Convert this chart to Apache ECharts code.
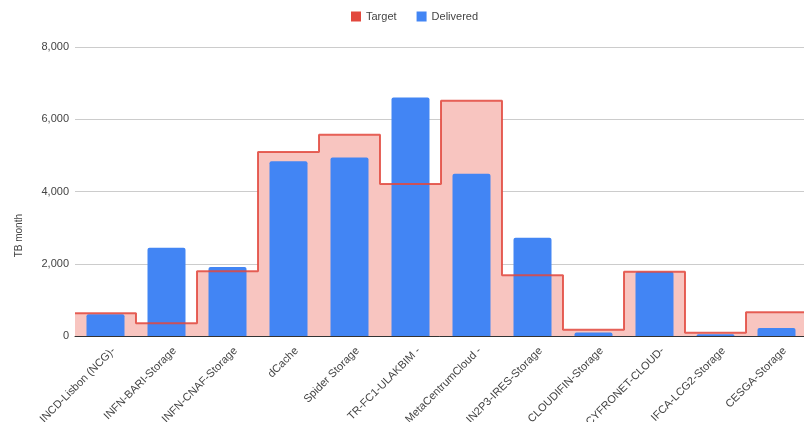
<!DOCTYPE html>
<html>
<head>
<meta charset="utf-8">
<title>Target vs Delivered</title>
<script src="https://cdn.jsdelivr.net/npm/echarts@6/dist/echarts.min.js"></script>
<style>
    html, body { margin: 0; padding: 0; background: #fff; }
    #chartData { width: 804px; height: 422px; }
</style>
</head>
<body>
<div id="chartData"></div>
<script>
// 站点名称
var categories = ['INCD-Lisbon (NCG)-', 'INFN-BARI-Storage', 'INFN-CNAF-Storage', 'dCache',
    'Spider Storage', 'TR-FC1-ULAKBIM -', 'MetaCentrumCloud -', 'IN2P3-IRES-Storage',
    'CLOUDIFIN-Storage', 'CYFRONET-CLOUD-', 'IFCA-LCG2-Storage', 'CESGA-Storage'];
// 目标值 (TB month)
var targetData = [630, 350, 1790, 5090, 5570, 4210, 6510, 1680, 170, 1780, 90, 660];
// 实际交付 (TB month)
var deliveredData = [600, 2440, 1910, 4840, 4940, 6600, 4490, 2720, 100, 1780, 50, 220];
var yTicks = [0, 2000, 4000, 6000, 8000];

// 阶梯图的点: 每个类别占满一格, 最后补一个点到右边界
var stepPoints = [];
for (var i = 0; i < targetData.length; i++) {
    stepPoints.push([i, targetData[i]]);
}
stepPoints.push([targetData.length, targetData[targetData.length - 1]]);

var myChart = echarts.init(document.getElementById('chartData'));

var font = 'Liberation Sans, Arial, sans-serif';
var red = '#e2483d';
var blue = '#4285f4';

var option = {
    animation: false,
    textStyle: { fontFamily: font },
    legend: {
        top: 6,
        left: 346,
        itemWidth: 10,
        itemHeight: 10,
        itemGap: 20,
        textStyle: { color: '#444', fontSize: 11, fontFamily: font },
        data: [
            { name: 'Target', icon: 'rect', itemStyle: { color: red } },
            { name: 'Delivered', icon: 'rect', itemStyle: { color: blue } }
        ]
    },
    grid: {
        left: 75,
        top: 47,
        width: 732,
        bottom: 86,
        containLabel: false,
        outerBoundsMode: 'none'
    },
    graphic: [{
        type: 'text',
        left: 14,
        top: 214,
        rotation: Math.PI / 2,
        style: {
            text: 'TB month',
            fill: '#444',
            font: '10px ' + font
        }
    }],
    xAxis: [
        {
            type: 'category',
            data: categories,
            axisLine: { show: true, lineStyle: { color: '#333', width: 1 } },
            axisTick: { show: false },
            axisLabel: {
                interval: 0,
                rotate: 45,
                margin: 5,
                verticalAlign: 'top',
                lineHeight: 23,
                color: '#444',
                fontSize: 11,
                fontFamily: font
            }
        },
        {
            type: 'value',
            min: 0,
            max: categories.length,
            show: false
        }
    ],
    yAxis: {
        type: 'value',
        min: 0,
        max: 8000,
        interval: 2000,
        axisLine: { show: false },
        axisTick: { show: false },
        splitLine: { lineStyle: { color: '#cccccc' } },
        axisLabel: {
            margin: 6,
            color: '#444',
            fontSize: 11,
            fontFamily: font,
            formatter: function (v) {
                return yTicks.indexOf(v) >= 0 ? v.toLocaleString('en-US') : '';
            }
        }
    },
    series: [
        {
            // 面积部分, 放在柱子后面
            name: 'Target',
            type: 'line',
            xAxisIndex: 1,
            step: 'end',
            symbol: 'none',
            z: 1,
            lineStyle: { width: 0, color: red },
            itemStyle: { color: red },
            areaStyle: { color: '#f8c5c0', opacity: 1, origin: 'start' },
            data: stepPoints
        },
        {
            name: 'Delivered',
            type: 'bar',
            barWidth: 38,
            z: 2,
            itemStyle: { color: blue, borderRadius: [2, 2, 0, 0] },
            data: deliveredData
        },
        {
            // 线条部分, 画在柱子上面
            name: 'Target',
            type: 'line',
            xAxisIndex: 1,
            step: 'end',
            symbol: 'none',
            z: 3,
            lineStyle: { width: 2, color: red, opacity: 0.85 },
            itemStyle: { color: red },
            data: stepPoints
        }
    ]
};

myChart.setOption(option);
</script>
</body>
</html>
